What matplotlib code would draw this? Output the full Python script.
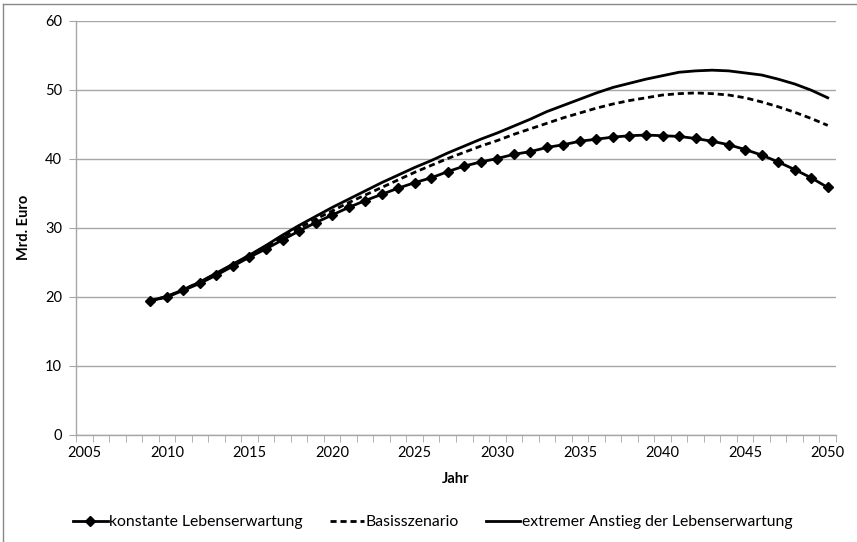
import numpy as np
import matplotlib
matplotlib.use('Agg')
import matplotlib.pyplot as plt
from matplotlib.lines import Line2D
from matplotlib.ticker import MultipleLocator

plt.rcParams['font.family'] = ['Lato', 'DejaVu Sans']

years = list(range(2009, 2051))

# konstante Lebenserwartung
konstant = [19.4, 19.9, 20.9, 21.9, 23.1, 24.4, 25.7, 26.9, 28.2, 29.5,
            30.7, 31.8, 32.9, 33.9, 34.8, 35.7, 36.5, 37.2, 38.1, 38.9,
            39.5, 40.0, 40.6, 41.0, 41.6, 42.0, 42.5, 42.8, 43.1, 43.3,
            43.4, 43.3, 43.2, 42.9, 42.5, 42.0, 41.3, 40.5, 39.5, 38.4,
            37.2, 35.8]

# Basisszenario
basis = [19.4, 20.0, 21.0, 22.1, 23.3, 24.6, 25.9, 27.2, 28.6, 29.9,
         31.2, 32.4, 33.6, 34.7, 35.8, 36.9, 38.0, 39.0, 40.0, 40.9,
         41.8, 42.6, 43.5, 44.3, 45.1, 45.9, 46.6, 47.3, 47.9, 48.4,
         48.8, 49.2, 49.4, 49.5, 49.4, 49.2, 48.8, 48.2, 47.5, 46.7,
         45.8, 44.8]

# extremer Anstieg der Lebenserwartung
extrem = [19.4, 20.0, 21.0, 22.1, 23.4, 24.7, 26.0, 27.4, 28.9, 30.3,
          31.6, 32.9, 34.1, 35.3, 36.5, 37.6, 38.7, 39.7, 40.8, 41.8,
          42.8, 43.7, 44.7, 45.7, 46.8, 47.7, 48.6, 49.5, 50.3, 50.9,
          51.5, 52.0, 52.5, 52.7, 52.8, 52.7, 52.4, 52.1, 51.5, 50.8,
          49.9, 48.8]

labels = ['konstante Lebenserwartung', 'Basisszenario',
          'extremer Anstieg der Lebenserwartung']

fig = plt.figure(figsize=(8.57, 5.42), dpi=100)
ax = fig.add_axes([76/857, 1 - 434.5/542, 760/857, 414/542])

grid_col = '#a6a6a6'
ax.plot(years, konstant, color='black', lw=2, marker='D', ms=5.5,
        label=labels[0], zorder=4)
ax.plot(years, basis, color='black', lw=2, dashes=(2.2, 1.4),
        label=labels[1], zorder=3)
ax.plot(years, extrem, color='black', lw=2, label=labels[2], zorder=3)

ax.set_xlim(2004.5, 2050.5)
ax.set_ylim(0, 60)
ax.set_yticks(range(0, 61, 10))
ax.set_xticks(range(2005, 2051, 5))
ax.xaxis.set_minor_locator(MultipleLocator(1, offset=0.5))
ax.tick_params(axis='x', which='major', length=0, pad=8, labelsize=10.5)
ax.tick_params(axis='x', which='minor', length=5, color=grid_col, direction='out')
ax.tick_params(axis='y', length=5, color=grid_col, labelsize=10.5, pad=5)
ax.grid(axis='y', color=grid_col, lw=1)
ax.set_axisbelow(True)
for s in ['top', 'right']:
    ax.spines[s].set_visible(False)
for s in ['left', 'bottom']:
    ax.spines[s].set_color(grid_col)
    ax.spines[s].set_linewidth(1)

ax.set_xlabel('Jahr', fontweight='bold', fontsize=10.5, labelpad=9)
ax.set_ylabel('Mrd. Euro', fontweight='bold', fontsize=10.5, labelpad=10)

ax.legend(loc='center', bbox_to_anchor=(0.505, 1 - 522/542), bbox_transform=fig.transFigure,
          ncol=3, frameon=False, fontsize=11.3, handlelength=2.2, columnspacing=1.7,
          handletextpad=0.1)

# outer chart border
fig.add_artist(Line2D([3/857, 3/857], [0, 1 - 4/542], color='#888888', lw=1))
fig.add_artist(Line2D([3/857, 1], [1 - 4/542, 1 - 4/542], color='#888888', lw=1))

fig.savefig('out.png', dpi=100)
